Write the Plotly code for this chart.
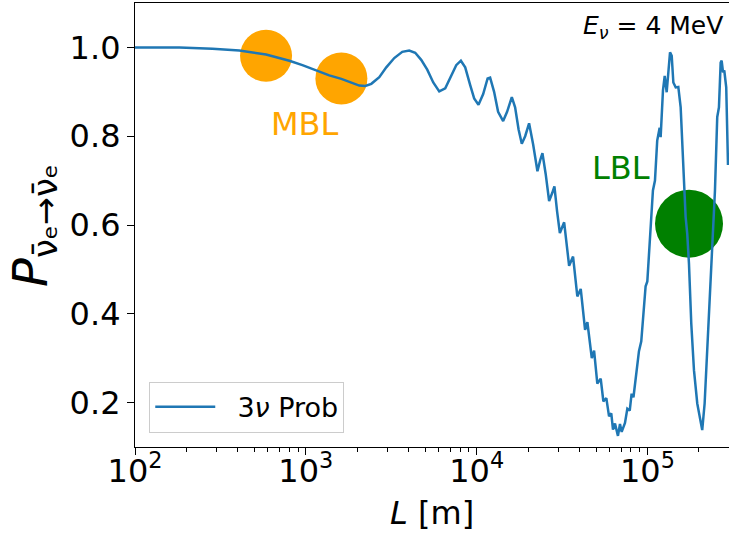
import numpy as np
import plotly.graph_objects as go

# ---- data ----
L_m = [100, 182, 284, 408, 585, 801, 955, 1148, 1371, 1614, 1845, 2056, 2228, 2417,
       2692, 2958, 3294, 3669, 4028, 4368, 4735, 5137, 5571, 6039, 6548, 7099, 7593,
       8085, 8570, 9165, 9668, 10250, 10920, 11590, 11990, 12650, 13350, 14290, 15070,
       16060, 16790, 17600, 18370, 19230, 20270, 21400, 22690, 23510, 24270, 25350,
       26560, 27680, 28520, 29580, 30690, 32520, 34770, 36670,
       38840, 40660, 43120, 44480, 47200, 48680, 50850, 53220, 55170, 57420, 59570,
       61380, 62810, 64520, 67150, 69020, 70610, 73830, 76210, 78710, 80740, 82770,
       85900, 89130, 91960, 94190, 97500, 99770, 102100, 104800, 107600, 110600,
       114000, 117800, 119400, 123200, 126100, 129500, 132400, 135500, 138600, 141700,
       146300, 151500, 156400, 161400, 167200, 170900, 174900, 180400, 187100, 195600,
       204800, 209100, 216000, 221900, 228800, 234200, 239300, 243900, 248300, 256000,
       262000, 268100, 271700, 276700, 281500, 289000, 296000]
P_ee = [1.000, 0.9995, 0.997, 0.993, 0.984, 0.970, 0.960, 0.948, 0.937, 0.929, 0.920,
        0.914, 0.913, 0.918, 0.933, 0.955, 0.976, 0.990, 0.993, 0.988, 0.972, 0.950,
        0.921, 0.901, 0.908, 0.935, 0.960, 0.970, 0.955, 0.915, 0.885, 0.871, 0.895,
        0.930, 0.932, 0.900, 0.855, 0.834, 0.855, 0.888, 0.865, 0.815, 0.783, 0.800,
        0.829, 0.782, 0.721, 0.745, 0.762, 0.715, 0.654, 0.672, 0.687, 0.630, 0.582,
        0.606, 0.508, 0.529, 0.439, 0.456, 0.364, 0.381, 0.300, 0.317, 0.243,
        0.254, 0.203, 0.210, 0.169, 0.176, 0.139, 0.153, 0.125, 0.152, 0.134, 0.154,
        0.186, 0.182, 0.220, 0.212, 0.265, 0.316, 0.338, 0.392, 0.462, 0.473, 0.535,
        0.585, 0.678, 0.700, 0.790, 0.819, 0.798, 0.903, 0.936, 0.899, 0.948, 0.989,
        0.981, 0.921, 0.910, 0.911, 0.865, 0.752, 0.618, 0.580, 0.513, 0.378, 0.273,
        0.198, 0.156, 0.138, 0.198, 0.288, 0.378, 0.475, 0.558, 0.600, 0.678, 0.843,
        0.865, 0.966, 0.970, 0.944, 0.948, 0.910, 0.735]

mbl_L = [585, 1615]
mbl_P = [0.981, 0.930]
lbl_L = [175000]
lbl_P = [0.603]

x_major = [1e2, 1e3, 1e4, 1e5]
x_major_text = ["10<sup>2</sup>", "10<sup>3</sup>", "10<sup>4</sup>", "10<sup>5</sup>"]
y_ticks = [0.2, 0.4, 0.6, 0.8, 1.0]
x_range = [1e2, 3e5]
y_range = [0.1, 1.1]

x_minor = [k * 10 ** d for d in range(2, 6) for k in range(2, 10) if k * 10 ** d <= x_range[1]]

FONT = "DejaVu Sans"
BLUE = "#1f77b4"
ORANGE = "#FFA500"
GREEN = "#008000"

fig = go.Figure()
fig.add_trace(go.Scatter(x=mbl_L, y=mbl_P, mode="markers",
                         marker=dict(size=52, color=ORANGE, line=dict(width=0)),
                         showlegend=False, hoverinfo="skip"))
fig.add_trace(go.Scatter(x=lbl_L, y=lbl_P, mode="markers",
                         marker=dict(size=68, color=GREEN, line=dict(width=0)),
                         showlegend=False, hoverinfo="skip"))
fig.add_trace(go.Scatter(x=L_m, y=P_ee, mode="lines", name="\u00a0\u00a03<i>ν</i> Prob",
                         line=dict(color=BLUE, width=2.5)))

fig.update_layout(
    width=729, height=535,
    margin=dict(l=135, r=0, t=3, b=88),
    paper_bgcolor="white", plot_bgcolor="white",
    font=dict(family=FONT, color="black", size=32),
    showlegend=True,
    legend=dict(x=0.024, y=0.032, xanchor="left", yanchor="bottom",
                bgcolor="rgba(255,255,255,0.8)", bordercolor="#cccccc", borderwidth=1,
                font=dict(family=FONT, size=27), itemwidth=60),
)
fig.update_xaxes(type="log", range=[np.log10(x_range[0]), np.log10(x_range[1])],
                 tickvals=x_major, ticktext=x_major_text,
                 ticks="outside", ticklen=7, tickwidth=1.2, tickcolor="black",
                 tickfont=dict(family=FONT, size=32), ticklabelstandoff=-12,
                 showline=True, linecolor="black", linewidth=1.2, mirror=True,
                 showgrid=False, zeroline=False,
                 minor=dict(tickmode="array", tickvals=x_minor, ticks="outside",
                            ticklen=4, tickwidth=1, tickcolor="black", showgrid=False))
fig.update_yaxes(range=y_range, tickvals=y_ticks, tickformat=".1f",
                 ticks="outside", ticklen=7, tickwidth=1.2, tickcolor="black",
                 tickfont=dict(family=FONT, size=32),
                 showline=True, linecolor="black", linewidth=1.2, mirror=True,
                 showgrid=False, zeroline=False)

annotations = [
    dict(text="MBL", x=np.log10(986), y=0.827, xref="x", yref="y", showarrow=False,
         font=dict(family=FONT, size=32, color=ORANGE), xanchor="center", yanchor="middle"),
    dict(text="LBL", x=np.log10(69660), y=0.728, xref="x", yref="y", showarrow=False,
         font=dict(family=FONT, size=32, color=GREEN), xanchor="center", yanchor="middle"),
    dict(text="<i>E</i><sub><i>ν</i></sub> = 4 MeV", x=0.993, y=0.946, xref="paper", yref="paper",
         showarrow=False, font=dict(family=FONT, size=25), xanchor="right", yanchor="middle"),
    dict(text="<i>P</i><sub>ν̄ₑ→ν̄ₑ</sub>", x=-0.17, y=0.498, xref="paper", yref="paper",
         showarrow=False, textangle=-90, font=dict(family=FONT, size=48),
         xanchor="center", yanchor="middle"),
    dict(text="<i>L</i> [m]", x=0.5, y=-0.148, xref="paper", yref="paper",
         showarrow=False, font=dict(family=FONT, size=32), xanchor="center", yanchor="middle"),
]
fig.update_layout(annotations=annotations)

fig.write_html("out.html", config={"displayModeBar": False},
               post_script="document.body.style.margin='0';document.body.style.padding='0';")
